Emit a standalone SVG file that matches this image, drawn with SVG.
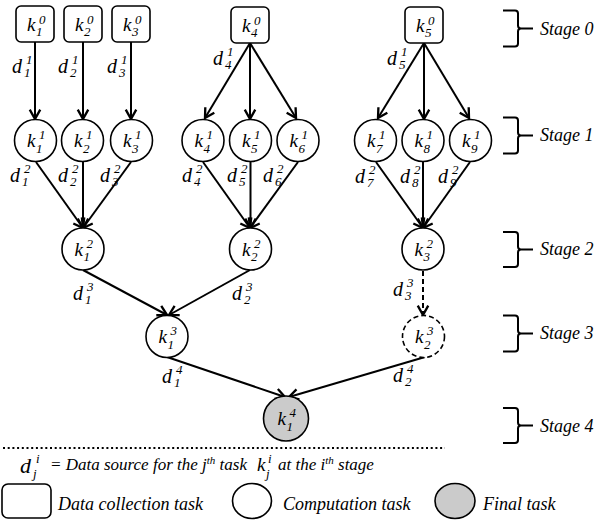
<svg xmlns="http://www.w3.org/2000/svg" width="608" height="527" viewBox="0 0 608 527" font-family="'Liberation Serif', 'Times New Roman', serif">
<defs>
<style>
.ln{stroke:#000;stroke-width:2;fill:none}
.dl{stroke:#000;stroke-width:2;fill:none;stroke-dasharray:5 3}
.nd{fill:#fff;stroke:#000;stroke-width:1.6}
.ndd{fill:#fff;stroke:#000;stroke-width:1.6;stroke-dasharray:5 3}
.fin{fill:#cbcbcb;stroke:#000;stroke-width:1.6}
.br{stroke:#000;stroke-width:2;fill:none}
text{font-family:'Liberation Serif','Times New Roman',serif;font-style:italic;fill:#000}
.k{font-size:19px}
.s{font-size:13px}
.d{font-size:20px}
.st{font-size:18px}
.lg{font-size:18px}
.lt{font-size:17px}
.lts{font-size:11px}
</style>
<marker id="ar" markerUnits="userSpaceOnUse" markerWidth="14" markerHeight="14" viewBox="-10 -6 12 12" refX="0" refY="0" orient="auto">
<path d="M-8,-4.5 L0,0 L-8,4.5" fill="none" stroke="#000" stroke-width="2"/>
</marker>
</defs>
<rect width="608" height="527" fill="#fff"/>

<g id="connectors">
<path class="ln" marker-end="url(#ar)" d="M35,42 V119"/>
<path class="ln" marker-end="url(#ar)" d="M83,42 V119"/>
<path class="ln" marker-end="url(#ar)" d="M131,42 V119"/>
<path class="ln" marker-end="url(#ar)" d="M250,43 L205,118"/>
<path class="ln" marker-end="url(#ar)" d="M250,43 V119"/>
<path class="ln" marker-end="url(#ar)" d="M250,43 L296,118"/>
<path class="ln" marker-end="url(#ar)" d="M424,43 L378,118"/>
<path class="ln" marker-end="url(#ar)" d="M424,43 V119"/>
<path class="ln" marker-end="url(#ar)" d="M424,43 L469,118"/>
<path class="ln" marker-end="url(#ar)" d="M36,162 L83,228"/>
<path class="ln" marker-end="url(#ar)" d="M83,162 V228"/>
<path class="ln" marker-end="url(#ar)" d="M131,162 L83,228"/>
<path class="ln" marker-end="url(#ar)" d="M203,162 L250,228"/>
<path class="ln" marker-end="url(#ar)" d="M250.5,162 V228"/>
<path class="ln" marker-end="url(#ar)" d="M298,162 L250,228"/>
<path class="ln" marker-end="url(#ar)" d="M376,162 L423,228"/>
<path class="ln" marker-end="url(#ar)" d="M423,162 V228"/>
<path class="ln" marker-end="url(#ar)" d="M470,162 L423,228"/>
<path class="ln" marker-end="url(#ar)" d="M83,270 L167,315"/>
<path class="ln" marker-end="url(#ar)" d="M250,270 L169,315"/>
<path class="dl" marker-end="url(#ar)" d="M423,271 V315"/>
<path class="ln" marker-end="url(#ar)" d="M167,357 L285,397"/>
<path class="ln" marker-end="url(#ar)" d="M425,357 L289,397"/>
</g>

<g id="edge-labels">
<text><tspan class="d" x="12" y="73">d</tspan><tspan class="s" x="24" y="77">1</tspan><tspan class="s" x="26" y="64">1</tspan></text>
<text><tspan class="d" x="58" y="73">d</tspan><tspan class="s" x="70" y="77">2</tspan><tspan class="s" x="72" y="64">1</tspan></text>
<text><tspan class="d" x="107" y="73">d</tspan><tspan class="s" x="119" y="77">3</tspan><tspan class="s" x="121" y="64">1</tspan></text>
<text><tspan class="d" x="213" y="65">d</tspan><tspan class="s" x="225" y="69">4</tspan><tspan class="s" x="227" y="56">1</tspan></text>
<text><tspan class="d" x="387" y="65">d</tspan><tspan class="s" x="399" y="69">5</tspan><tspan class="s" x="401" y="56">1</tspan></text>
<text><tspan class="d" x="10" y="182">d</tspan><tspan class="s" x="22" y="186">1</tspan><tspan class="s" x="24" y="173">2</tspan></text>
<text><tspan class="d" x="58" y="182">d</tspan><tspan class="s" x="70" y="186">2</tspan><tspan class="s" x="72" y="173">2</tspan></text>
<text><tspan class="d" x="100" y="182">d</tspan><tspan class="s" x="112" y="186">3</tspan><tspan class="s" x="114" y="173">2</tspan></text>
<text><tspan class="d" x="182" y="182">d</tspan><tspan class="s" x="194" y="186">4</tspan><tspan class="s" x="196" y="173">2</tspan></text>
<text><tspan class="d" x="227" y="182">d</tspan><tspan class="s" x="239" y="186">5</tspan><tspan class="s" x="241" y="173">2</tspan></text>
<text><tspan class="d" x="263" y="182">d</tspan><tspan class="s" x="275" y="186">6</tspan><tspan class="s" x="277" y="173">2</tspan></text>
<text><tspan class="d" x="355" y="183">d</tspan><tspan class="s" x="367" y="187">7</tspan><tspan class="s" x="369" y="174">2</tspan></text>
<text><tspan class="d" x="400" y="183">d</tspan><tspan class="s" x="412" y="187">8</tspan><tspan class="s" x="414" y="174">2</tspan></text>
<text><tspan class="d" x="438" y="183">d</tspan><tspan class="s" x="450" y="187">9</tspan><tspan class="s" x="452" y="174">2</tspan></text>
<text><tspan class="d" x="73" y="300">d</tspan><tspan class="s" x="85" y="304">1</tspan><tspan class="s" x="87" y="291">3</tspan></text>
<text><tspan class="d" x="232" y="300">d</tspan><tspan class="s" x="244" y="304">2</tspan><tspan class="s" x="246" y="291">3</tspan></text>
<text><tspan class="d" x="393" y="296">d</tspan><tspan class="s" x="405" y="300">3</tspan><tspan class="s" x="407" y="287">3</tspan></text>
<text><tspan class="d" x="162" y="383">d</tspan><tspan class="s" x="174" y="387">1</tspan><tspan class="s" x="176" y="374">4</tspan></text>
<text><tspan class="d" x="393" y="382">d</tspan><tspan class="s" x="405" y="386">2</tspan><tspan class="s" x="407" y="373">4</tspan></text>
</g>

<g id="k1_0"><rect class="nd" x="16" y="6" width="38" height="36" rx="5"/><text><tspan class="k" x="27" y="30.5">k</tspan><tspan class="s" x="36" y="36">1</tspan><tspan class="s" x="39" y="24">0</tspan></text></g>
<g id="k2_0"><rect class="nd" x="64" y="6" width="38" height="36" rx="5"/><text><tspan class="k" x="75" y="30.5">k</tspan><tspan class="s" x="84" y="36">2</tspan><tspan class="s" x="87" y="24">0</tspan></text></g>
<g id="k3_0"><rect class="nd" x="112" y="6" width="38" height="36" rx="5"/><text><tspan class="k" x="123" y="30.5">k</tspan><tspan class="s" x="132" y="36">3</tspan><tspan class="s" x="135" y="24">0</tspan></text></g>
<g id="k4_0"><rect class="nd" x="231" y="7" width="38" height="36" rx="5"/><text><tspan class="k" x="242" y="31.5">k</tspan><tspan class="s" x="251" y="37">4</tspan><tspan class="s" x="254" y="25">0</tspan></text></g>
<g id="k5_0"><rect class="nd" x="405" y="7" width="38" height="36" rx="5"/><text><tspan class="k" x="416" y="31.5">k</tspan><tspan class="s" x="425" y="37">5</tspan><tspan class="s" x="428" y="25">0</tspan></text></g>

<g id="k1_1"><circle class="nd" cx="35.5" cy="140.5" r="21"/><text><tspan class="k" x="27" y="147">k</tspan><tspan class="s" x="36" y="152.5">1</tspan><tspan class="s" x="39" y="139">1</tspan></text></g>
<g id="k2_1"><circle class="nd" cx="82.5" cy="140.5" r="21"/><text><tspan class="k" x="74" y="147">k</tspan><tspan class="s" x="83" y="152.5">2</tspan><tspan class="s" x="86" y="139">1</tspan></text></g>
<g id="k3_1"><circle class="nd" cx="131.5" cy="140.5" r="21"/><text><tspan class="k" x="123" y="147">k</tspan><tspan class="s" x="132" y="152.5">3</tspan><tspan class="s" x="135" y="139">1</tspan></text></g>
<g id="k4_1"><circle class="nd" cx="203" cy="140.5" r="21"/><text><tspan class="k" x="194.5" y="147">k</tspan><tspan class="s" x="203.5" y="152.5">4</tspan><tspan class="s" x="206.5" y="139">1</tspan></text></g>
<g id="k5_1"><circle class="nd" cx="250.5" cy="140.5" r="21"/><text><tspan class="k" x="242" y="147">k</tspan><tspan class="s" x="251" y="152.5">5</tspan><tspan class="s" x="254" y="139">1</tspan></text></g>
<g id="k6_1"><circle class="nd" cx="298" cy="140.5" r="21"/><text><tspan class="k" x="289.5" y="147">k</tspan><tspan class="s" x="298.5" y="152.5">6</tspan><tspan class="s" x="301.5" y="139">1</tspan></text></g>
<g id="k7_1"><circle class="nd" cx="375.5" cy="140.5" r="21"/><text><tspan class="k" x="367" y="147">k</tspan><tspan class="s" x="376" y="152.5">7</tspan><tspan class="s" x="379" y="139">1</tspan></text></g>
<g id="k8_1"><circle class="nd" cx="423" cy="140.5" r="21"/><text><tspan class="k" x="414.5" y="147">k</tspan><tspan class="s" x="423.5" y="152.5">8</tspan><tspan class="s" x="426.5" y="139">1</tspan></text></g>
<g id="k9_1"><circle class="nd" cx="470.5" cy="140.5" r="21"/><text><tspan class="k" x="462" y="147">k</tspan><tspan class="s" x="471" y="152.5">9</tspan><tspan class="s" x="474" y="139">1</tspan></text></g>

<g id="k1_2"><circle class="nd" cx="83" cy="249" r="21"/><text><tspan class="k" x="74.5" y="255.5">k</tspan><tspan class="s" x="83.5" y="261">1</tspan><tspan class="s" x="86.5" y="247.5">2</tspan></text></g>
<g id="k2_2"><circle class="nd" cx="250.5" cy="249" r="21"/><text><tspan class="k" x="242" y="255.5">k</tspan><tspan class="s" x="251" y="261">2</tspan><tspan class="s" x="254" y="247.5">2</tspan></text></g>
<g id="k3_2"><circle class="nd" cx="423" cy="249" r="21"/><text><tspan class="k" x="414.5" y="255.5">k</tspan><tspan class="s" x="423.5" y="261">3</tspan><tspan class="s" x="426.5" y="247.5">2</tspan></text></g>

<g id="k1_3"><circle class="nd" cx="167" cy="336.5" r="21"/><text><tspan class="k" x="158.5" y="343">k</tspan><tspan class="s" x="167.5" y="348.5">1</tspan><tspan class="s" x="170.5" y="335">3</tspan></text></g>
<g id="k2_3"><circle class="ndd" cx="423.5" cy="336.5" r="21"/><text><tspan class="k" x="415" y="343">k</tspan><tspan class="s" x="424" y="348.5">2</tspan><tspan class="s" x="427" y="335">3</tspan></text></g>

<g id="k1_4"><circle class="fin" cx="286" cy="418.5" r="22.5"/><text><tspan class="k" x="277.5" y="425">k</tspan><tspan class="s" x="286.5" y="430.5">1</tspan><tspan class="s" x="289.5" y="417">4</tspan></text></g>

<g id="stages">
<path class="br" d="M503,10.5 H515 Q518,10.5 518,13.5 V25.5 Q518,28.5 521,28.5 H533 M521,28.5 Q518,28.5 518,31.5 V43.5 Q518,46.5 515,46.5 H503"/>
<text class="st" x="540" y="35">Stage 0</text>
<path class="br" d="M503,117.5 H515 Q518,117.5 518,120.5 V132.5 Q518,135.5 521,135.5 H533 M521,135.5 Q518,135.5 518,138.5 V150.5 Q518,153.5 515,153.5 H503"/>
<text class="st" x="540" y="141">Stage 1</text>
<path class="br" d="M503,232 H515 Q518,232 518,235 V246.5 Q518,249.5 521,249.5 H533 M521,249.5 Q518,249.5 518,252.5 V264 Q518,267 515,267 H503"/>
<text class="st" x="540" y="255">Stage 2</text>
<path class="br" d="M503,315.5 H515 Q518,315.5 518,318.5 V330.5 Q518,333.5 521,333.5 H533 M521,333.5 Q518,333.5 518,336.5 V348.5 Q518,351.5 515,351.5 H503"/>
<text class="st" x="540" y="339">Stage 3</text>
<path class="br" d="M503,408 H515 Q518,408 518,411 V422.5 Q518,425.5 521,425.5 H533 M521,425.5 Q518,425.5 518,428.5 V440 Q518,443 515,443 H503"/>
<text class="st" x="540" y="432">Stage 4</text>
</g>

<g id="legend">
<line x1="3" y1="448" x2="445" y2="448" stroke="#000" stroke-width="2" stroke-dasharray="2 2.7"/>
<text><tspan class="d" style="font-size:22px" x="20" y="473">d</tspan><tspan class="s" x="33" y="478">j</tspan><tspan class="s" x="36" y="463">i</tspan></text>
<text class="lt" x="50" y="470">= Data source for the j<tspan class="lts" dy="-6">th</tspan><tspan dy="6"> task</tspan></text>
<text><tspan class="k" x="257" y="471">k</tspan><tspan class="s" x="266" y="478">j</tspan><tspan class="s" x="268" y="463">i</tspan></text>
<text class="lt" x="278" y="470">at the i<tspan class="lts" dy="-6">th</tspan><tspan dy="6"> stage</tspan></text>
<rect class="nd" x="2" y="484" width="49" height="34" rx="6"/>
<text class="lg" x="58" y="510">Data collection task</text>
<ellipse class="nd" cx="252" cy="501" rx="19.5" ry="17.5"/>
<text class="lg" x="283" y="510">Computation task</text>
<ellipse class="fin" cx="455" cy="501" rx="20" ry="17.5"/>
<text class="lg" x="483" y="510">Final task</text>
</g>
</svg>
